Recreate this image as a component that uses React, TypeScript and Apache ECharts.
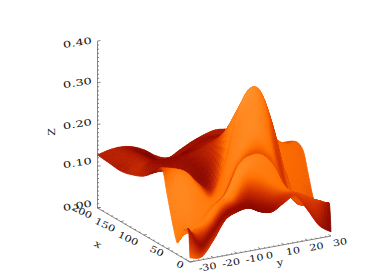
import React, { useEffect, useRef } from "react";
import * as echarts from "echarts";

const xRows = [0, 3, 8, 14, 20, 26, 30, 38, 50, 60, 75, 100, 125, 150, 175, 200];
const yCols = [-30, -25, -20, -15, -10, -5, 0, 5, 10, 15, 20, 25, 30];
const zGrid = [
  [.01, .007, .042, .085, .099, .103, .089, .084, .10, .112, .073, .03, .01],
  [.074, .033, .06, .095, .109, .113, .101, .096, .112, .117, .10, .078, .072],
  [.07, .062, .08, .116, .127, .165, .165, .15, .13, .116, .101, .086, .072],
  [.067, .062, .076, .112, .132, .173, .192, .184, .151, .114, .097, .082, .07],
  [.05, .058, .075, .10, .135, .194, .21, .205, .171, .108, .089, .078, .07],
  [.03, .067, .074, .104, .123, .178, .204, .203, .174, .109, .087, .075, .067],
  [.035, .085, .082, .098, .122, .19, .235, .245, .205, .13, .085, .068, .067],
  [.07, .118, .10, .096, .127, .218, .296, .315, .262, .173, .084, .055, .066],
  [.133, .164, .154, .113, .107, .186, .289, .342, .33, .249, .136, .071, .12],
  [.184, .179, .166, .135, .113, .144, .248, .32, .33, .255, .147, .16, .165],
  [.167, .165, .155, .137, .127, .158, .225, .28, .298, .269, .204, .178, .177],
  [.141, .17, .169, .171, .171, .178, .196, .203, .21, .19, .16, .15, .16],
  [.128, .146, .146, .141, .148, .157, .168, .175, .182, .17, .15, .14, .135],
  [.121, .142, .144, .132, .12, .131, .145, .154, .161, .16, .15, .13, .125],
  [.124, .14, .142, .128, .11, .093, .112, .124, .138, .14, .14, .135, .13],
  [.127, .134, .136, .131, .118, .099, .089, .103, .117, .128, .135, .132, .13],
];
const shadeGrid = [
  [.7, .6, .5, .4, .32, .28, .28, .32, .45, .55, .45, .35, .2],
  [.4, .3, .32, .32, .32, .3, .3, .34, .5, .62, .58, .5, .3],
  [.75, .65, .72, .76, .75, .75, .75, .76, .75, .72, .68, .62, .6],
  [.78, .78, .82, .86, .88, .88, .86, .82, .78, .72, .7, .65, .6],
  [.8, .82, .85, .9, .9, .9, .86, .82, .76, .68, .65, .65, .6],
  [.8, .85, .82, .74, .62, .62, .62, .62, .6, .55, .62, .6, .6],
  [.82, .87, .85, .82, .8, .85, .9, .88, .76, .55, .65, .6, .62],
  [.85, .9, .85, .82, .78, .84, .92, .92, .8, .52, .65, .6, .65],
  [.85, .88, .85, .8, .7, .8, .94, .98, .82, .6, .7, .7, .7],
  [.6, .75, .72, .6, .4, .7, .9, .95, .8, .6, .72, .72, .7],
  [.35, .4, .4, .36, .25, .45, .75, .9, .8, .65, .72, .72, .7],
  [.42, .3, .28, .28, .33, .4, .45, .5, .5, .6, .65, .68, .7],
  [.45, .45, .3, .2, .2, .3, .4, .4, .4, .5, .6, .6, .6],
  [.38, .42, .33, .2, .16, .2, .33, .35, .35, .4, .5, .5, .5],
  [.4, .42, .34, .22, .18, .26, .35, .35, .35, .35, .4, .4, .4],
  [.4, .42, .4, .35, .3, .35, .38, .35, .35, .38, .4, .4, .4],
];
const zTicks = [0, 0.1, 0.2, 0.3, 0.4];
const xTicks = [0, 50, 100, 150, 200];
const yTicks = [-30, -20, -10, 0, 10, 20, 30];
const zTickLabels = ["0.00", "0.10", "0.20", "0.30", "0.40"];
const colorStops: [number, number[]][] = [
  [0, [80, 0, 0]],
  [0.3, [150, 12, 0]],
  [0.5, [205, 45, 0]],
  [0.75, [255, 112, 0]],
  [1, [255, 150, 50]],
];

const ORIGIN = [190, 262];
const Y_VEC = [141, -26];
const X_VEC = [-92.5, -54];
const Z_VEC = [0, -167];
const lm = echarts.number.linearMap;
function project(x: number, y: number, z: number) {
  const u = lm(y, [-30, 30], [0, 1]);
  const v = lm(x, [0, 200], [0, 1]);
  const w = lm(z, [0, 0.4], [0, 1]);
  return [
    ORIGIN[0] + u * Y_VEC[0] + v * X_VEC[0] + w * Z_VEC[0],
    ORIGIN[1] + u * Y_VEC[1] + v * X_VEC[1] + w * Z_VEC[1],
  ];
}

function cr(a: number, b: number, c: number, d: number, t: number) {
  return 0.5 * (2 * b + (c - a) * t + (2 * a - 5 * b + 4 * c - d) * t * t + (3 * b - a - 3 * c + d) * t * t * t);
}
function sample(grid: number[][], r: number, q: number) {
  const nr = grid.length, nq = grid[0].length;
  const r0 = Math.min(Math.floor(r), nr - 2), q0 = Math.min(Math.floor(q), nq - 2);
  const tr = r - r0, tq = q - q0;
  const at = (i: number, j: number) =>
    grid[Math.max(0, Math.min(nr - 1, i))][Math.max(0, Math.min(nq - 1, j))];
  const vals = [-1, 0, 1, 2].map((di) =>
    cr(at(r0 + di, q0 - 1), at(r0 + di, q0), at(r0 + di, q0 + 1), at(r0 + di, q0 + 2), tq)
  );
  return cr(vals[0], vals[1], vals[2], vals[3], tr);
}
function sample1(arr: number[], r: number) {
  const n = arr.length;
  const r0 = Math.min(Math.floor(r), n - 2);
  const at = (i: number) => arr[Math.max(0, Math.min(n - 1, i))];
  return cr(at(r0 - 1), at(r0), at(r0 + 1), at(r0 + 2), r - r0);
}
function ramp(t: number) {
  t = Math.max(0, Math.min(1, t));
  for (let i = 1; i < colorStops.length; i++) {
    if (t <= colorStops[i][0]) {
      const [a, ca] = colorStops[i - 1];
      const [b, cb] = colorStops[i];
      const f = (t - a) / (b - a);
      return `rgb(${ca.map((c, k) => Math.round(c + (cb[k] - c) * f)).join(",")})`;
    }
  }
  return "rgb(255,150,50)";
}

const SUB = 5;
const SUB_MID = 8;
const SUB_FRONT = 14;

function surfaceChildren(api: any) {
  const rs: number[] = [];
  for (let i = 0; i < 3 * SUB_FRONT; i++) rs.push(i / SUB_FRONT);
  for (let i = 3 * SUB_MID; i < 8 * SUB_MID; i++) rs.push(i / SUB_MID);
  for (let i = 8 * SUB; i <= (xRows.length - 1) * SUB; i++) rs.push(i / SUB);
  const nr = rs.length;
  const nq = (yCols.length - 1) * SUB + 1;
  const pts: any[][] = [];
  for (let i = 0; i < nr; i++) {
    const row: any[] = [];
    const r = rs[i];
    const x = sample1(xRows, r);
    for (let j = 0; j < nq; j++) {
      const q = j / SUB;
      const y = sample1(yCols, q);
      const z = sample(zGrid, r, q);
      row.push({ x, y, z, s: sample(shadeGrid, r, q), p: project(x, y, z) });
    }
    pts.push(row);
  }
  const kids: any[] = [];
  for (let i = nr - 2; i >= 0; i--) {
    for (let j = nq - 2; j >= 0; j--) {
      const a = pts[i][j], b = pts[i][j + 1], c = pts[i + 1][j + 1], d = pts[i + 1][j];
      const s = (a.s + b.s + c.s + d.s) / 4;
      const e1 = [b.p[0] - a.p[0], b.p[1] - a.p[1]];
      const e2 = [d.p[0] - a.p[0], d.p[1] - a.p[1]];
      const area2 = Math.abs(e1[0] * e2[1] - e1[1] * e2[0]);
      const du = [(b.y - a.y) / 60 * 143, 0, (b.z - a.z) / 0.4 * 167];
      const dv = [0, (d.x - a.x) / 200 * 107, (d.z - a.z) / 0.4 * 167];
      const cx = du[1] * dv[2] - du[2] * dv[1];
      const cy = du[2] * dv[0] - du[0] * dv[2];
      const cz = du[0] * dv[1] - du[1] * dv[0];
      const area3 = Math.sqrt(cx * cx + cy * cy + cz * cz) || 1;
      const facing = Math.min(1, area2 / area3 / 0.5);
      const col = ramp(s * (0.86 + 0.14 * facing));
      kids.push({
        type: "polygon",
        shape: { points: [a, b, c, d].map((n) => api.coord(n.p)) },
        style: { fill: col, stroke: col, lineWidth: 0.8, lineJoin: "round" },
        silent: true,
      });
    }
  }
  return kids;
}

function line(api: any, a: number[], b: number[], w = 0.7, color = "#555") {
  return {
    type: "line",
    shape: { x1: api.coord(a)[0], y1: api.coord(a)[1], x2: api.coord(b)[0], y2: api.coord(b)[1] },
    style: { stroke: color, lineWidth: w, fill: "none" },
    silent: true,
  };
}
function label(api: any, text: string, at: number[], deg: number, sx = 1.45, size = 9) {
  const c = api.coord(at);
  return {
    type: "text",
    x: c[0],
    y: c[1],
    rotation: (deg * Math.PI) / 180,
    scaleX: sx,
    scaleY: 1,
    style: {
      text,
      fill: "#111",
      font: `${size}px "DejaVu Serif"`,
      align: "center",
      verticalAlign: "middle",
    },
    silent: true,
  };
}

const zLabelShift = [-2, -3, 0, 0.4, 2];
function axesChildren(api: any) {
  const kids: any[] = [];
  kids.push(line(api, project(200, -30, 0), project(200, -30, 0.4)));
  kids.push(line(api, project(200, -30, 0), project(0, -30, 0)));
  kids.push(line(api, project(0, -30, 0), project(0, 30, 0)));
  for (let k = 0; k <= 40; k++) {
    const z = k / 100;
    const p = project(200, -30, z);
    kids.push(line(api, p, [p[0] + (k % 10 === 0 ? 3 : 1.5), p[1] - (k % 10 === 0 ? 0.5 : 0.3)]));
  }
  for (let k = 0; k <= 20; k++) {
    const x = k * 10;
    const p = project(x, -30, 0);
    const len = k % 5 === 0 ? 3 : 1.5;
    kids.push(line(api, p, [p[0] + len, p[1] - len * 0.18]));
  }
  for (let k = 0; k <= 30; k++) {
    const y = -30 + k * 2;
    const p = project(0, y, 0);
    const len = k % 5 === 0 ? 3 : 1.5;
    kids.push(line(api, p, [p[0] - len * 0.86, p[1] - len * 0.5]));
  }
  zTicks.forEach((z, i) => {
    const p = project(200, -30, z);
    kids.push(label(api, zTickLabels[i], [p[0] - 20, p[1] + zLabelShift[i]], 9));
  });
  xTicks.forEach((x) => {
    const p = project(x, -30, 0);
    kids.push(label(api, String(x), x > 50 ? [p[0] - 15.6, p[1] + 3.5] : [p[0] - 10, p[1] + 2.5], -26, 1.25));
  });
  yTicks.forEach((y) => {
    const p = project(0, y, 0);
    kids.push(label(api, String(y), y < 0 ? [p[0] + 17.5, p[1] + 5] : [p[0] + 9, p[1] + 6.3], 10, 1.25));
  });
  kids.push(label(api, "Z", [52, 132], 90, 1.2));
  kids.push(label(api, "x", [98, 244], -30, 1.3));
  kids.push(label(api, "y", [280, 262], 10, 1.3));
  return kids;
}

export default function App() {
  const ref = useRef<HTMLDivElement>(null);
  useEffect(() => {
    document.body.style.margin = "0";
    const chart = echarts.init(ref.current!, undefined, { renderer: "svg" });
    const mk = (gridIndex: number, min: number, max: number, inv: boolean) => ({
      type: "value" as const,
      gridIndex,
      min,
      max,
      inverse: inv,
      show: false,
    });
    chart.setOption({
      animation: false,
      backgroundColor: "#fff",
      grid: [
        { left: 0, top: 0, width: 387, height: 277 },
        { left: 97.5, top: 0, width: 234, height: 277 },
      ],
      xAxis: [mk(0, 0, 387, false), mk(1, 97.5, 331.5, false)],
      yAxis: [mk(0, 0, 277, true), mk(1, 0, 277, true)],
      series: [
        {
          type: "custom",
          xAxisIndex: 0,
          yAxisIndex: 0,
          coordinateSystem: "cartesian2d",
          clip: false,
          data: [[0, 0]],
          z: 1,
          renderItem: (_p: any, api: any) => ({ type: "group", children: axesChildren(api) }),
        },
        {
          type: "custom",
          xAxisIndex: 1,
          yAxisIndex: 1,
          coordinateSystem: "cartesian2d",
          clip: true,
          data: [[100, 100]],
          z: 2,
          renderItem: (_p: any, api: any) => ({ type: "group", children: surfaceChildren(api) }),
        },
      ],
    });
    return () => chart.dispose();
  }, []);
  return <div ref={ref} style={{ width: 387, height: 277 }} />;
}
